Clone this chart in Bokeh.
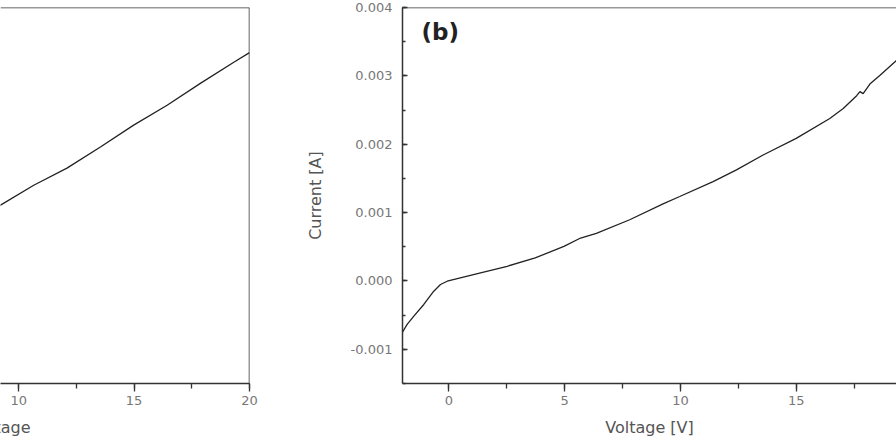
from bokeh.plotting import figure
from bokeh.layouts import row
from bokeh.models import SingleIntervalTicker, NumeralTickFormatter, Span, Label, Range1d
from bokeh.embed import file_html
from bokeh.resources import INLINE

# Panel (a): only the right part is visible in the reference
voltage_a = [8.0, 9.21, 10.65, 12.09, 13.54, 14.98, 16.43, 17.87, 19.32, 20.0]
current_a = [0.00088, 0.00111, 0.00140, 0.00165, 0.00196, 0.00228, 0.00257, 0.00289,
             0.00320, 0.00334]

# Panel (b)
voltage_b = [-2.0, -1.8, -1.51, -1.08, -0.65, -0.36, -0.07, 1.37, 2.52, 3.73, 4.97, 5.69,
             6.37, 7.81, 9.25, 9.97, 11.41, 12.42, 13.57, 15.0, 16.45, 17.03, 17.61,
             17.75, 17.89, 18.18, 18.62, 19.33, 20.0]
current_b = [-0.00075, -0.000636, -0.000515, -0.000344, -0.00015, -0.000052, -0.000004,
             0.000118, 0.000215, 0.000337, 0.000506, 0.000628, 0.000696, 0.000895,
             0.001128, 0.001235, 0.001454, 0.001624, 0.001843, 0.002086, 0.002377,
             0.002523, 0.00271, 0.00277, 0.00274, 0.00288, 0.003009, 0.003227, 0.00343]

x_tick_step = 5
y_tick_step = 0.001
y_lo, y_hi = -0.0015, 0.004
label_x = "Voltage [V]"
label_x_a = "Voltage"
label_y = "Current [A]"
panel_tag = "(b)"

FONT = "DejaVu Sans"
AX = "#333333"

def style_xaxis(ax):
    ax.ticker = SingleIntervalTicker(interval=x_tick_step, num_minor_ticks=2)
    ax.axis_line_color = AX
    ax.axis_line_width = 1.5
    ax.major_tick_line_color = AX
    ax.major_tick_line_width = 1.3
    ax.minor_tick_line_color = AX
    ax.minor_tick_line_width = 1.3
    ax.major_tick_out = 8
    ax.major_tick_in = 0
    ax.minor_tick_out = 5
    ax.minor_tick_in = 0
    ax.major_label_text_font = FONT
    ax.major_label_text_font_size = "13px"
    ax.major_label_text_color = "#777777"
    ax.major_label_standoff = 4
    ax.axis_label_text_font = FONT
    ax.axis_label_text_font_size = "16px"
    ax.axis_label_text_font_style = "normal"
    ax.axis_label_text_color = "#555555"
    ax.axis_label_standoff = 10

W1 = 262
H = 444

pa = figure(width=W1, height=H, x_range=Range1d(9.21, 20), y_range=Range1d(y_lo, y_hi),
            output_backend="svg", toolbar_location=None, y_axis_location=None,
            min_border_left=0, min_border_right=W1 - 249, min_border_top=7, min_border_bottom=61)
pa.outline_line_color = None
pa.grid.visible = False
style_xaxis(pa.xaxis[0])
pa.xaxis[0].axis_label = label_x_a
try:
    pa.xaxis[0].axis_label_align = "start"
except Exception:
    pass
pa.line(voltage_a, current_a, line_color="#222222", line_width=1.3)
pa.add_layout(Span(location=y_hi, dimension="width", line_color=AX, line_width=1.5))
pa.add_layout(Span(location=20, dimension="height", line_color=AX, line_width=1.5))

pb = figure(width=896 - W1, height=H, x_range=Range1d(-2, 19.33), y_range=Range1d(y_lo, y_hi),
            output_backend="svg", toolbar_location=None,
            min_border_left=402 - W1, min_border_right=0, min_border_top=7, min_border_bottom=61)
pb.outline_line_color = None
pb.grid.visible = False
style_xaxis(pb.xaxis[0])
pb.xaxis[0].axis_label = label_x
ya = pb.yaxis[0]
ya.ticker = SingleIntervalTicker(interval=y_tick_step, num_minor_ticks=2)
ya.formatter = NumeralTickFormatter(format="0.000")
ya.axis_line_color = AX
ya.axis_line_width = 1.5
ya.major_tick_line_color = AX
ya.major_tick_line_width = 1.3
ya.minor_tick_line_color = AX
ya.minor_tick_line_width = 1.3
ya.major_tick_in = 5
ya.major_tick_out = 0
ya.minor_tick_in = 3
ya.minor_tick_out = 0
ya.major_label_text_font = FONT
ya.major_label_text_font_size = "13px"
ya.major_label_text_color = "#777777"
ya.major_label_standoff = 10
ya.axis_label = label_y
ya.axis_label_text_font = FONT
ya.axis_label_text_font_size = "16px"
ya.axis_label_text_font_style = "normal"
ya.axis_label_text_color = "#555555"
ya.axis_label_standoff = 23
pb.line(voltage_b, current_b, line_color="#222222", line_width=1.3)
pb.add_layout(Span(location=y_hi, dimension="width", line_color=AX, line_width=1.5))
pb.add_layout(Label(x=-1.18, y=0.00383, text=panel_tag, text_baseline="top",
                    text_font=FONT, text_font_size="23px", text_font_style="bold",
                    text_color="#222222"))

layout = row(pa, pb)
open("out.html", "w").write(file_html(layout, INLINE))
